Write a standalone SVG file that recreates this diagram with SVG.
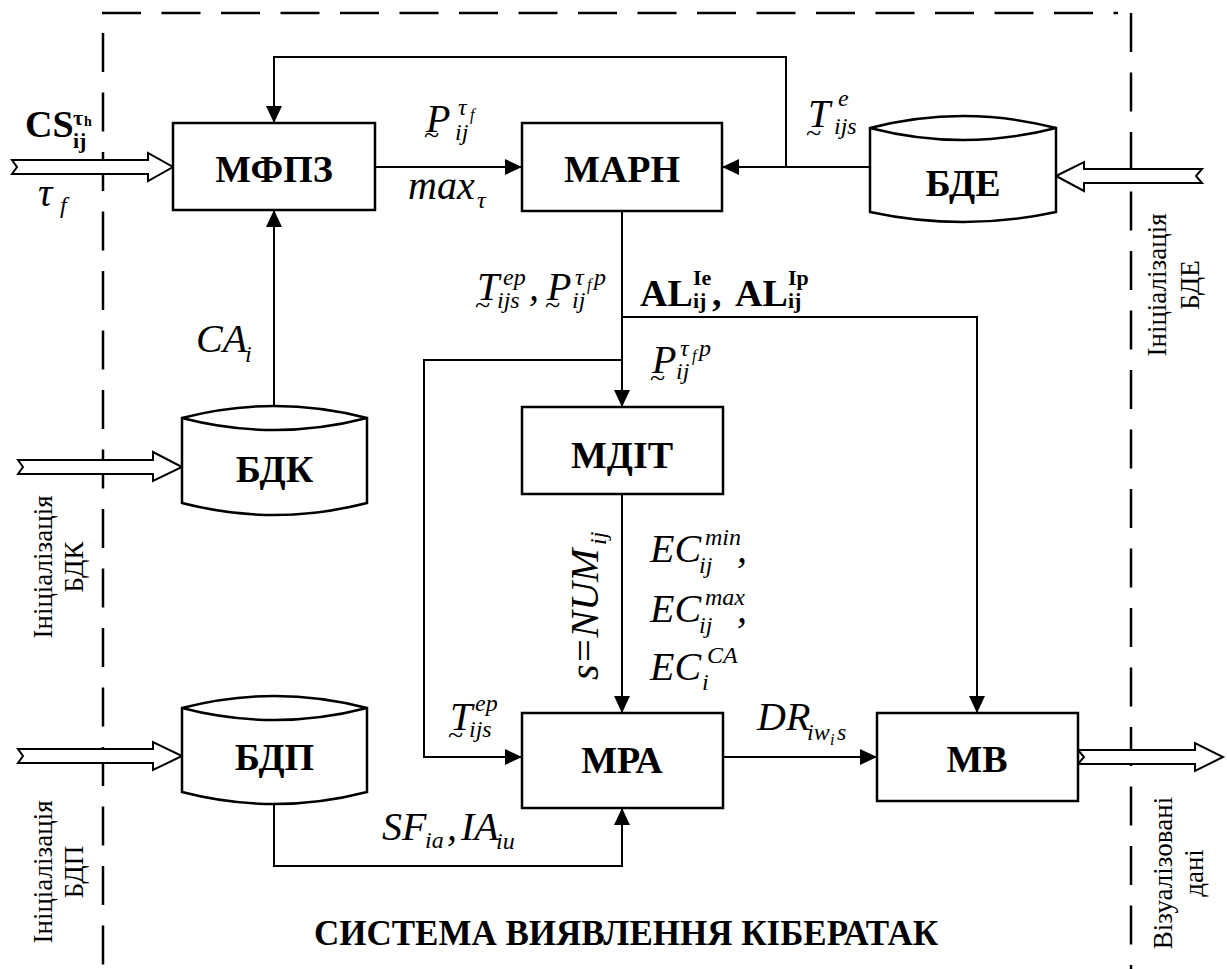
<svg xmlns="http://www.w3.org/2000/svg" width="1227" height="969" viewBox="0 0 1227 969" font-family="Liberation Serif, Times New Roman, Tinos, DejaVu Serif, serif">
<style>
.bx{fill:#fff;stroke:#000;stroke-width:2.5}
.db{fill:#fff;stroke:#000;stroke-width:2.5}
.ln{fill:none;stroke:#000;stroke-width:2}
.ds{fill:none;stroke:#000;stroke-width:2.5;stroke-dasharray:39 20.5}
.ha{fill:#fff;stroke:#000;stroke-width:2}
.nd{font-weight:bold;font-size:38px;text-anchor:middle}
.m{font-style:italic;font-size:40px}
.s{font-style:italic;font-size:24px}
.ss{font-style:italic;font-size:16px}
.t{font-size:28px}
.b{font-weight:bold;font-size:38px}
.bs{font-weight:bold;font-size:22px}
.bss{font-weight:bold;font-size:14px}
.r{font-size:27px;text-anchor:middle}
.ttl{font-weight:bold;font-size:35px;text-anchor:middle}
</style>
<defs>
<marker id="ar" markerUnits="userSpaceOnUse" markerWidth="18" markerHeight="18" refX="17" refY="8" orient="auto">
<path d="M0,0 L17,8 L0,16 Z" fill="#000"/>
</marker>
</defs>
<rect width="1227" height="969" fill="#fff"/>

<g id="boundary">
<path class="ds" d="M102,13 H1118"/>
<path class="ds" d="M103,33 V969"/>
<path class="ds" d="M1131,13 V969"/>
</g>

<g id="connectors">
<path class="ln" d="M375,167 H522" marker-end="url(#ar)"/>
<path class="ln" d="M870,167 H722" marker-end="url(#ar)"/>
<path class="ln" d="M786,167 V57 H274 V123" marker-end="url(#ar)"/>
<path class="ln" d="M274,406 V210" marker-end="url(#ar)"/>
<path class="ln" d="M622,211 V407" marker-end="url(#ar)"/>
<path class="ln" d="M622,317 H977 V713" marker-end="url(#ar)"/>
<path class="ln" d="M622,360 H424 V757 H522" marker-end="url(#ar)"/>
<path class="ln" d="M622,494 V713" marker-end="url(#ar)"/>
<path class="ln" d="M723,757 H877" marker-end="url(#ar)"/>
<path class="ln" d="M274,804 V866 H622 V808" marker-end="url(#ar)"/>
<polygon class="ha" points="12,160 148,160 148,153 173,167 148,181 148,174 12,174 17,167"/>
<polygon class="ha" points="18,460 153,460 153,452 182,467 153,481 153,474 18,474 23,467"/>
<polygon class="ha" points="18,749 153,749 153,742 182,756 153,770 153,763 18,763 23,756"/>
<polygon class="ha" points="1056,176 1084,162 1084,169 1202,169 1196,176 1202,183 1084,183 1084,191"/>
<polygon class="ha" points="1078,750 1195,750 1195,743 1223,757 1195,771 1195,764 1078,764 1084,757"/>
</g>

<g id="n-mfpz">
<rect class="bx" x="173" y="123" width="202" height="87"/>
<text class="nd" x="274" y="182">МФПЗ</text>
</g>
<g id="n-marn">
<rect class="bx" x="522" y="123" width="200" height="88"/>
<text class="nd" x="622" y="182">МАРН</text>
</g>
<g id="n-bde">
<path class="db" d="M870,128 L870,212 Q963,232 1056,212 L1056,128 Q963,104 870,128 Z"/>
<path class="ln" d="M870,128 Q963,152 1056,128" style="stroke-width:2.5"/>
<text class="nd" x="963" y="196">БДЕ</text>
</g>
<g id="n-bdk">
<path class="db" d="M182,418 L182,503 Q274.5,527 367,503 L367,418 Q274.5,394 182,418 Z"/>
<path class="ln" d="M182,418 Q274.5,442 367,418" style="stroke-width:2.5"/>
<text class="nd" x="274.5" y="482">БДК</text>
</g>
<g id="n-bdp">
<path class="db" d="M182,708 L182,792 Q274.5,816 367,792 L367,708 Q274.5,684 182,708 Z"/>
<path class="ln" d="M182,708 Q274.5,732 367,708" style="stroke-width:2.5"/>
<text class="nd" x="274.5" y="770">БДП</text>
</g>
<g id="n-mdit">
<rect class="bx" x="522" y="407" width="201" height="87"/>
<text class="nd" x="622" y="468">МДІТ</text>
</g>
<g id="n-mra">
<rect class="bx" x="522" y="713" width="201" height="95"/>
<text class="nd" x="622" y="773">МРА</text>
</g>
<g id="n-mv">
<rect class="bx" x="877" y="713" width="201" height="88"/>
<text class="nd" x="977" y="772">МВ</text>
</g>

<g id="labels">
<text class="b" x="25" y="137">CS</text>
<text class="bs" x="73" y="125">τ</text>
<text class="bss" x="84" y="126">h</text>
<text class="bs" x="73" y="148">ij</text>
<text class="m" x="38" y="206">τ</text>
<text class="s" x="60" y="213">f</text>

<text class="m" x="426" y="132">P</text>
<text class="t" x="424" y="144">~</text>
<text class="s" x="458" y="115">τ</text>
<text class="ss" x="470" y="120">f</text>
<text class="s" x="455" y="140">ij</text>

<text class="m" x="408" y="199">max</text>
<text class="s" x="477" y="208">τ</text>

<text class="m" x="808" y="127">T</text>
<text class="t" x="806" y="142">~</text>
<text class="s" x="838" y="106">e</text>
<text class="s" x="834" y="134">ijs</text>

<text class="m" x="477" y="300">T</text>
<text class="t" x="475" y="314">~</text>
<text class="s" x="503" y="285">ep</text>
<text class="s" x="497" y="308">ijs</text>
<text class="m" x="529" y="300">,</text>
<text class="m" x="547" y="300">P</text>
<text class="t" x="545" y="314">~</text>
<text class="s" x="575" y="285">τ</text>
<text class="ss" x="587" y="290">f</text>
<text class="s" x="594" y="285">p</text>
<text class="s" x="572" y="308">ij</text>

<text class="b" x="640" y="306">AL</text>
<text class="bs" x="693" y="285">Ie</text>
<text class="bs" x="693" y="308">ij</text>
<text class="b" x="712" y="306">,</text>
<text class="b" x="735" y="306">AL</text>
<text class="bs" x="788" y="285">Ip</text>
<text class="bs" x="788" y="308">ij</text>

<text class="m" x="652" y="373">P</text>
<text class="t" x="650" y="387">~</text>
<text class="s" x="680" y="356">τ</text>
<text class="ss" x="692" y="361">f</text>
<text class="s" x="699" y="356">p</text>
<text class="s" x="676" y="379">ij</text>

<text class="m" x="196" y="352">CA</text>
<text class="s" x="245" y="362">i</text>

<g transform="translate(598,680) rotate(-90)">
<text class="m" x="0" y="0">s=NUM</text>
<text class="s" x="135" y="8">ij</text>
</g>

<text class="m" x="650" y="562">EC</text>
<text class="s" x="705" y="545">min</text>
<text class="s" x="699" y="573">ij</text>
<text class="m" x="737" y="562">,</text>

<text class="m" x="650" y="622">EC</text>
<text class="s" x="705" y="605">max</text>
<text class="s" x="699" y="633">ij</text>
<text class="m" x="737" y="622">,</text>

<text class="m" x="650" y="680">EC</text>
<text class="s" x="707" y="663">CA</text>
<text class="s" x="702" y="690">i</text>

<text class="m" x="450" y="730">T</text>
<text class="t" x="448" y="744">~</text>
<text class="s" x="475" y="711">ep</text>
<text class="s" x="469" y="737">ijs</text>

<text class="m" x="757" y="730">DR</text>
<text class="s" x="807" y="740">iw</text>
<text class="ss" x="830" y="745">i</text>
<text class="s" x="837" y="740">s</text>

<text class="m" x="382" y="840">SF</text>
<text class="s" x="425" y="848">ia</text>
<text class="m" x="447" y="840">,</text>
<text class="m" x="461" y="840">IA</text>
<text class="s" x="496" y="849">iu</text>

<text class="r" transform="translate(52,567) rotate(-90)">Ініціалізація</text>
<text class="r" transform="translate(83,567) rotate(-90)">БДК</text>
<text class="r" transform="translate(52,872) rotate(-90)">Ініціалізація</text>
<text class="r" transform="translate(83,872) rotate(-90)">БДП</text>
<text class="r" transform="translate(1166,285) rotate(-90)">Ініціалізація</text>
<text class="r" transform="translate(1199,285) rotate(-90)">БДЕ</text>
<text class="r" transform="translate(1172,873) rotate(-90)">Візуалізовані</text>
<text class="r" transform="translate(1203,873) rotate(-90)">дані</text>

<text class="ttl" x="626" y="945">СИСТЕМА ВИЯВЛЕННЯ КІБЕРАТАК</text>
</g>
</svg>
